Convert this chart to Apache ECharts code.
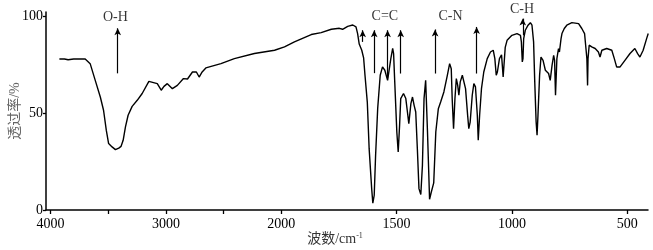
<!DOCTYPE html>
<html>
<head>
<meta charset="utf-8">
<title>IR spectrum</title>
<script src="https://cdn.jsdelivr.net/npm/echarts@6/dist/echarts.min.js"></script>
<style>
  html, body { margin: 0; padding: 0; background: #fff; }
  #chart { width: 653px; height: 250px; }
</style>
</head>
<body>
<div id="chart"></div>
<script>
// spectrum: wavenumber (cm-1) and transmittance (%)
const wavenumbers = [
  3924, 3880, 3848, 3800, 3700, 3657, 3613, 3569, 3541, 3517, 3497, 3467, 3438, 3409, 3389, 3371,
  3351, 3328, 3293, 3249, 3206, 3148, 3133, 3075, 3041, 3017, 2988, 2944, 2901, 2848, 2813, 2770,
  2736, 2712, 2686, 2654, 2523, 2407, 2233, 2058, 1986, 1943, 1870, 1827, 1783, 1748, 1734, 1712,
  1690, 1676, 1669, 1662, 1651, 1643, 1637, 1627, 1619, 1608, 1603, 1597, 1591, 1582, 1571, 1561,
  1551, 1539, 1532, 1525, 1517, 1513, 1508, 1499, 1493, 1487, 1482, 1470, 1460, 1453, 1447, 1438,
  1431, 1424, 1417, 1410, 1403, 1395, 1388, 1381, 1374, 1366, 1357, 1350, 1345, 1339, 1330, 1319,
  1309, 1295, 1280, 1270, 1263, 1259, 1253, 1247, 1241, 1235, 1230, 1224, 1215, 1207, 1201, 1192,
  1187, 1181, 1172, 1165, 1158, 1150, 1146, 1140, 1132, 1122, 1107, 1093, 1081, 1074, 1068, 1063,
  1054, 1045, 1038, 1029, 1021, 1000, 978, 963, 959, 955, 952, 949, 942, 930, 920, 913,
  906, 901, 895, 891, 887, 880, 874, 865, 855, 848, 841, 834, 826, 819, 815, 811,
  805, 798, 794, 787, 783, 779, 773, 762, 740, 711, 697, 685, 679, 675, 672, 670,
  665, 654, 639, 625, 618, 610, 589, 567, 556, 546, 531, 510, 488, 467, 455, 445,
  431, 416, 409
]
const transmittance = [
  77.8, 77.8, 77.4, 77.8, 77.8, 75.4, 66.8, 58.2, 51.4, 41.0, 34.2, 32.5, 31.1, 31.9, 32.8, 35.9,
  42.8, 48.8, 53.4, 56.5, 60.0, 66.3, 66.8, 65.1, 61.7, 63.7, 65.1, 62.5, 64.2, 67.7, 67.5, 71.1,
  71.1, 68.5, 71.1, 73.2, 75.4, 78.0, 80.6, 82.3, 84.0, 86.6, 90.4, 91.4, 93.1, 93.6, 93.1, 94.6,
  95.3, 94.3, 90.9, 85.5, 82.3, 78.4, 69.4, 55.6, 31.6, 11.0, 3.5, 7.6, 28.2, 52.2, 69.4, 73.7,
  72.0, 66.8, 66.0, 78.0, 83.2, 80.6, 66.0, 40.2, 29.9, 43.6, 57.4, 60.0, 57.4, 50.5, 44.5, 54.8,
  58.2, 53.9, 50.5, 31.6, 11.0, 8.0, 23.0, 57.4, 66.8, 40.2, 5.5, 9.0, 8.0, 14.0, 40.2, 52.2,
  55.6, 60.8, 69.4, 75.4, 72.8, 57.4, 41.9, 57.4, 67.7, 64.2, 59.1, 66.0, 69.4, 68.5, 62.5, 48.8,
  41.9, 45.3, 59.1, 65.1, 63.4, 48.8, 35.9, 48.8, 62.5, 71.1, 78.0, 81.4, 82.3, 78.0, 69.4, 71.1,
  78.0, 80.0, 68.5, 83.8, 87.4, 90.0, 90.9, 90.0, 86.6, 76.3, 78.0, 88.3, 92.6, 95.2, 96.5, 95.2,
  86.6, 66.0, 45.3, 38.5, 48.8, 69.4, 78.8, 77.1, 72.0, 71.1, 70.3, 66.8, 74.5, 79.7, 77.1, 59.1,
  78.0, 83.2, 81.4, 88.3, 90.9, 90.0, 93.5, 95.2, 96.5, 96.0, 93.5, 90.9, 83.2, 78.0, 64.2, 78.0,
  84.9, 84.0, 83.2, 81.4, 78.8, 82.3, 83.2, 82.3, 78.0, 73.7, 73.7, 77.1, 80.6, 83.2, 80.6, 78.8,
  82.3, 88.3, 90.9
]

// axis ticks and labels (cm-1)
const tickWavenumbers = [4000, 3500, 3000, 2500, 2000, 1500, 1000, 500]
const labelWavenumbers = [4000, 3000, 2000, 1500, 1000, 500]
const yTicks = [0, 50, 100]

// band arrows: wavenumber, arrow tail, arrow head (transmittance)
const arrowWavenumbers = [3418, 1647, 1597, 1539, 1482, 1333, 1153, 953]
const arrowFrom = [70.4, 86.6, 70.5, 68.0, 70.3, 70.3, 70.3, 90.0]
const arrowTo = [93.6, 92.6, 92.6, 92.6, 92.6, 93.0, 94.3, 98.6]

// band labels
const bandNames = ['O-H', 'C=C', 'C-N', 'C-H']
const bandWavenumbers = [3438, 1551, 1266, 956]
const bandHeights = [99.4, 99.8, 99.8, 103.2]

// the spectrometer halves the scale above 2000 cm-1
function toAxis(w) {
  return w <= 2000 ? w : 2000 + (w - 2000) / 2
}
function fromAxis(u) {
  return u <= 2000 ? u : 2000 + (u - 2000) * 2
}

const serif = "'Liberation Serif', 'Noto Sans CJK SC', serif"
const chart = echarts.init(document.getElementById('chart'))

const arrows = arrowWavenumbers.map((w, i) => [
  { coord: [toAxis(w), arrowFrom[i]], symbol: 'none' },
  { coord: [toAxis(w), arrowTo[i]], symbol: 'arrow', symbolSize: [5, 7] }
])

chart.setOption({
  animation: false,
  grid: {
    left: 46,
    right: 5,
    top: 12,
    bottom: 40,
    containLabel: false,
    outerBoundsMode: 'none'
  },
  xAxis: {
    type: 'value',
    inverse: true,
    min: toAxis(410),
    max: toAxis(4040),
    name: '波数/cm{sup|-1}',
    nameLocation: 'middle',
    nameGap: 22,
    nameMoveOverlap: false,
    nameTextStyle: {
      fontFamily: serif,
      fontSize: 14,
      color: '#333',
      padding: [0, 24, 0, 0],
      rich: {
        sup: { fontFamily: serif, fontSize: 8, color: '#333', verticalAlign: 'top' }
      }
    },
    splitLine: { show: false },
    axisLine: { lineStyle: { color: '#000', width: 1.5 } },
    axisTick: {
      customValues: tickWavenumbers.map(toAxis),
      length: 4,
      lineStyle: { color: '#000', width: 1.3 }
    },
    axisLabel: {
      customValues: labelWavenumbers.map(toAxis),
      formatter: v => String(Math.round(fromAxis(v))),
      margin: 7,
      fontFamily: serif,
      fontSize: 14,
      color: '#000'
    }
  },
  yAxis: {
    type: 'value',
    min: 0,
    max: 102,
    name: '透过率/%',
    nameLocation: 'middle',
    nameGap: 24,
    nameMoveOverlap: false,
    nameTextStyle: { fontFamily: serif, fontSize: 14, color: '#666' },
    splitLine: { show: false },
    axisLine: { show: true, lineStyle: { color: '#000', width: 1.5 } },
    axisTick: {
      customValues: yTicks,
      length: 3,
      lineStyle: { color: '#000', width: 1.3 }
    },
    axisLabel: {
      customValues: yTicks,
      margin: 3,
      fontFamily: serif,
      fontSize: 14,
      color: '#000'
    }
  },
  series: [
    {
      type: 'line',
      data: wavenumbers.map((w, i) => [toAxis(w), transmittance[i]]),
      symbol: 'none',
      lineStyle: { color: '#000', width: 1.4 },
      markLine: {
        silent: true,
        label: { show: false },
        lineStyle: { color: '#000', width: 1.2, type: 'solid' },
        data: arrows
      }
    },
    {
      type: 'scatter',
      clip: false,
      symbolSize: 0,
      data: bandNames.map((n, i) => ({ name: n, value: [toAxis(bandWavenumbers[i]), bandHeights[i]] })),
      label: {
        show: true,
        position: 'inside',
        formatter: '{b}',
        fontFamily: serif,
        fontSize: 14,
        color: '#000'
      }
    }
  ]
})
</script>
</body>
</html>
